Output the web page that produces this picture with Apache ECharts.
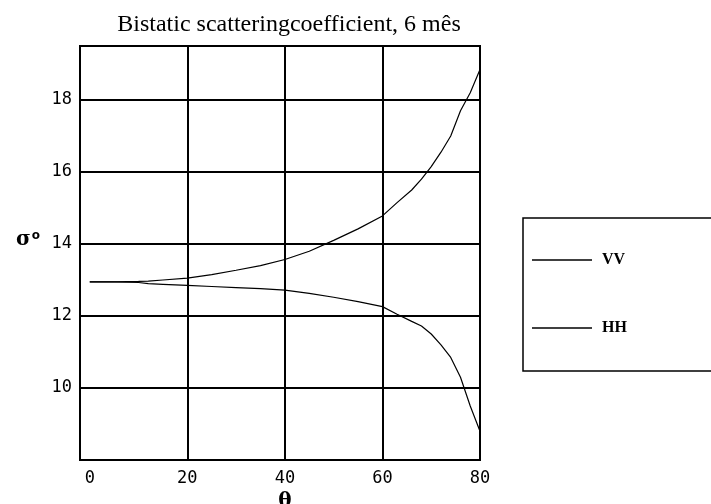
<!DOCTYPE html>
<html>
<head>
  <meta charset="utf-8">
</head>
<body style="margin: 0; background: #fff">
  <div id="container" style="width: 711px; height: 504px"></div>

  <script type="text/javascript" src="https://fastly.jsdelivr.net/npm/echarts@6/dist/echarts.min.js"></script>
  <script type="text/javascript">
    // angle theta (deg) and the two polarisations
    var theta = [0, 5, 10, 12, 15, 20, 25, 30, 35, 40, 45, 50, 55, 60, 63, 66, 68, 70, 72, 74, 76, 78, 80];
    var vv = [12.95, 12.95, 12.96, 12.97, 13.0, 13.05, 13.15, 13.27, 13.4, 13.57, 13.8, 14.1, 14.42, 14.78, 15.15, 15.5, 15.8, 16.15, 16.55, 17.0, 17.7, 18.2, 18.85];
    var hh = [12.95, 12.95, 12.93, 12.9, 12.88, 12.85, 12.82, 12.79, 12.76, 12.72, 12.63, 12.52, 12.4, 12.26, 12.05, 11.85, 11.72, 11.5, 11.2, 10.85, 10.3, 9.5, 8.8];
    var xLabels = [0, 20, 40, 60, 80];
    var xGrid = [20, 40, 60];
    var yTicks = [10, 12, 14, 16, 18];

    function pairs(ys) {
      return theta.map(function (t, i) { return [t, ys[i]]; });
    }

    var myChart = echarts.init(document.getElementById('container'), null, { renderer: 'canvas' });
    var monoLabel = { color: '#000', fontFamily: 'DejaVu Sans Mono', fontSize: 17 };

    var option = {
      animation: false,
      title: {
        text: 'Bistatic scatteringcoefficient, 6 mês',
        left: 284,
        textAlign: 'center',
        top: 8,
        textStyle: { fontFamily: 'Liberation Serif', fontWeight: 'normal', fontSize: 24, color: '#000' }
      },
      grid: {
        left: 80, right: 231, top: 46, bottom: 44,
        outerBoundsMode: 'none',
        show: true, borderColor: '#000', borderWidth: 2
      },
      legend: {
        orient: 'vertical',
        left: 523,
        top: 218,
        padding: [34, 110, 35, 9],
        itemGap: 52,
        itemWidth: 60,
        itemHeight: 1.5,
        icon: 'rect',
        borderColor: '#000',
        borderWidth: 1.5,
        textStyle: { fontFamily: 'Liberation Serif', fontWeight: 'bold', fontSize: 16, color: '#000', padding: [0, 0, 0, 5] },
        data: ['VV', 'HH']
      },
      xAxis: {
        type: 'value',
        min: -2, max: 80,
        name: 'θ',
        nameLocation: 'middle',
        nameGap: 30,
        nameTextStyle: { fontFamily: 'DejaVu Serif', fontWeight: 'bold', fontSize: 20, color: '#000', padding: [0, 0, 0, 10] },
        axisLine: { onZero: false, lineStyle: { color: '#000', width: 2 } },
        axisTick: { show: false },
        axisLabel: Object.assign({ customValues: xLabels, margin: 10 }, monoLabel),
        splitLine: { show: false }
      },
      yAxis: {
        type: 'value',
        min: 8, max: 19.5,
        axisLine: { onZero: false, lineStyle: { color: '#000', width: 2 } },
        axisTick: { show: false, customValues: yTicks },
        axisLabel: Object.assign({ customValues: yTicks, margin: 8 }, monoLabel),
        splitLine: { show: true, lineStyle: { color: '#000', width: 2 } }
      },
      graphic: [{
        type: 'text',
        left: 16,
        top: 230,
        style: {
          text: '{s|σ}{o|o}',
          rich: {
            s: { fontFamily: 'DejaVu Serif', fontWeight: 'bold', fontSize: 20, fill: '#000' },
            o: { fontFamily: 'DejaVu Sans', fontWeight: 'bold', fontSize: 12, fill: '#000', verticalAlign: 'top', padding: [0, 0, 8, 1] }
          }
        }
      }],
      series: [
        {
          name: 'VV', type: 'line', data: pairs(vv),
          symbol: 'none', showSymbol: false,
          lineStyle: { color: '#000', width: 1.2 }, itemStyle: { color: '#000' },
          markLine: {
            silent: true,
            symbol: 'none',
            label: { show: false },
            lineStyle: { color: '#000', width: 2, type: 'solid' },
            data: xGrid.map(function (v) { return { xAxis: v }; })
          },
          z: 3
        },
        {
          name: 'HH', type: 'line', data: pairs(hh),
          symbol: 'none', showSymbol: false,
          lineStyle: { color: '#000', width: 1.2 }, itemStyle: { color: '#000' }
        }
      ]
    };
    myChart.setOption(option);
    window.addEventListener('resize', myChart.resize);
  </script>
</body>
</html>
